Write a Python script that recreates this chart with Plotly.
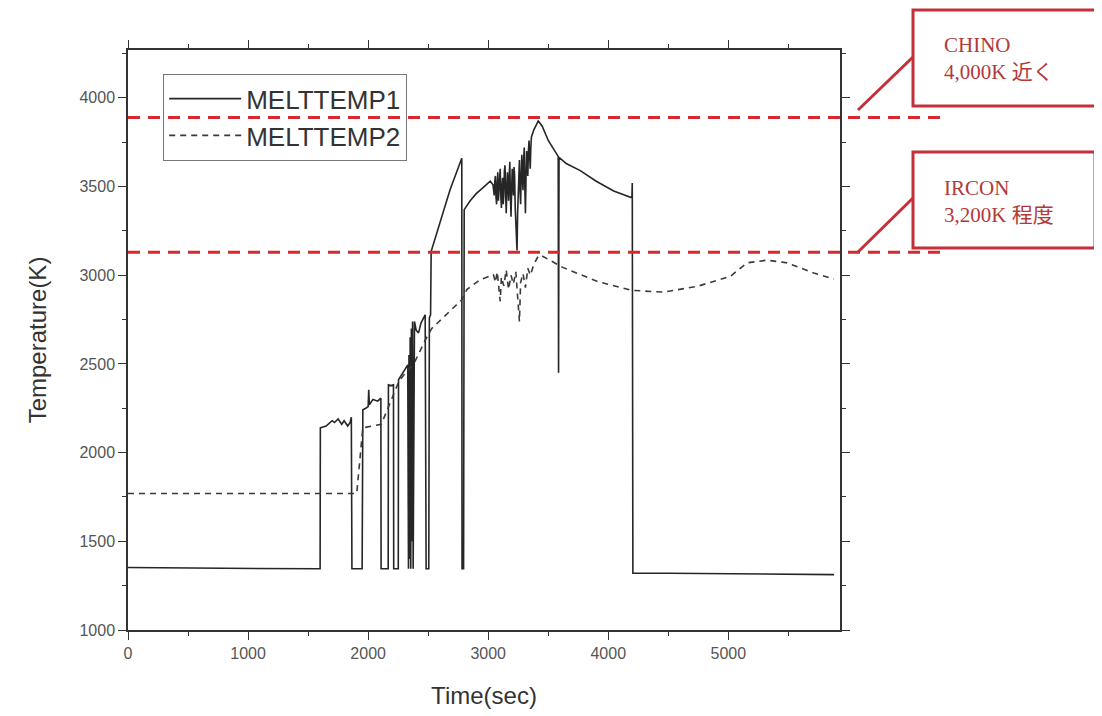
import plotly.graph_objects as go

# ---------------- data ----------------
t1 = [0, 200, 800, 1600, 1602, 1650, 1700, 1720, 1750, 1780, 1800, 1830, 1850, 1860, 1865,
      1950, 1956, 1980, 2000, 2005, 2010, 2040, 2080, 2106, 2108,
      2167, 2169, 2190, 2211, 2213,
      2251, 2253, 2280, 2310, 2330, 2336, 2340, 2345, 2350, 2355, 2360, 2365, 2370, 2375, 2380,
      2386, 2400, 2420, 2440, 2460, 2475, 2483, 2505, 2510, 2520, 2525,
      2600, 2683, 2780, 2782, 2795, 2800, 2850, 2900, 2950, 3017,
      3040, 3045, 3050, 3055, 3060, 3065, 3070, 3075, 3080, 3085, 3090, 3095, 3100, 3105, 3110,
      3115, 3120, 3125, 3130, 3135, 3140, 3145, 3150, 3155, 3160, 3165, 3170, 3175, 3180, 3185,
      3190, 3195, 3200, 3205, 3210, 3215, 3220, 3225, 3230, 3235, 3240, 3245, 3250, 3255, 3260,
      3265, 3270, 3275, 3280, 3285, 3290, 3295, 3300, 3305, 3310, 3315, 3320, 3325, 3330, 3335,
      3340, 3345, 3350, 3355, 3360,
      3380, 3400, 3417, 3450, 3500, 3583, 3586, 3590, 3650, 3767, 3900, 4045,
      4150, 4197, 4200, 4205, 4500, 5000, 5880]
v1 = [1352, 1352, 1348, 1345, 2140, 2150, 2180, 2170, 2190, 2160, 2180, 2150, 2170, 2200, 1345,
      1345, 2242, 2250, 2260, 2354, 2270, 2300, 2290, 2307, 1345,
      1345, 2382, 2378, 2382, 1345,
      1345, 2411, 2440, 2470, 2495, 1345, 2550, 1400, 2650, 1345, 2700, 1500, 2740, 1345, 2720,
      2740, 2690, 2675, 2730, 2760, 2777, 1345, 1345, 2760, 2777, 3135,
      3297, 3483, 3660, 1345, 1345, 3370, 3420, 3460, 3490, 3530,
      3510, 3470, 3450, 3530, 3560, 3440, 3400, 3520, 3580, 3420, 3480, 3560, 3600, 3450, 3380,
      3500, 3550, 3400, 3450, 3590, 3620, 3480, 3350, 3470, 3580, 3520, 3420, 3560, 3640, 3450,
      3330, 3480, 3600, 3520, 3450, 3610, 3560, 3380, 3300, 3200, 3140, 3350, 3500, 3600, 3650,
      3480, 3400, 3560, 3680, 3550, 3480, 3650, 3720, 3500, 3350, 3550, 3700, 3640, 3560, 3700,
      3760, 3680, 3600, 3720, 3780,
      3820, 3850, 3870, 3840, 3760, 3670, 2450, 3665, 3630, 3590, 3530, 3475,
      3450, 3437, 3520, 1320, 1320, 1318, 1312]

t2 = [0, 1905, 1956, 2110, 2255, 2300, 2380, 2480, 2530, 2650, 2780, 2822, 2933,
      3044, 3060, 3075, 3090, 3100, 3110, 3130, 3150, 3170, 3190, 3210, 3230, 3245, 3260, 3270,
      3290, 3310, 3330, 3350, 3380, 3410, 3433, 3625, 3906, 4197, 4458, 4739, 5017, 5156,
      5322, 5489, 5711, 5878]
v2 = [1770, 1770, 2140, 2160, 2400, 2440, 2500, 2640, 2700, 2780, 2862, 2919, 2975,
      3003, 2960, 3020, 2930, 2853, 2990, 2940, 3030, 2920, 3000, 2950, 3020, 2900, 2740, 2960,
      3010, 2930, 3040, 3000, 3060, 3100, 3115, 3043, 2966, 2915, 2905, 2937, 2994, 3070,
      3085, 3070, 3013, 2979]

ref_levels = [3890, 3130]
ref_labels = ["CHINO<br>4,000K 近く", "IRCON<br>3,200K 程度"]
series_names = ["MELTTEMP1", "MELTTEMP2"]
x_ticks = [0, 1000, 2000, 3000, 4000, 5000]
y_ticks = [1000, 1500, 2000, 2500, 3000, 3500, 4000]

X_RANGE = [0, 5930]
Y_RANGE = [1000, 4270]

# ---------------- figure ----------------
fig = go.Figure()
fig.add_trace(go.Scatter(x=t1, y=v1, mode="lines", name=series_names[0],
                         line=dict(color="#262626", width=1.6)))
fig.add_trace(go.Scatter(x=t2, y=v2, mode="lines", name=series_names[1],
                         line=dict(color="#3a3a3a", width=1.6, dash="6px,5px")))

# page offset of the plot div (default body margin)
OFF = 8
W, H = 1102 - OFF, 716 - OFF
# plot area in page pixels
L, R, T, B = 128, 840, 50, 630
def px(x):
    return (x - L) / (R - L)
def py(y):
    return (B - y) / (B - T)
def vy(v):
    return (v - Y_RANGE[0]) / (Y_RANGE[1] - Y_RANGE[0])

red = "#d42a2f"
box_red = "#c3303a"
shapes = []
for lev in ref_levels:
    shapes.append(dict(type="line", xref="paper", yref="paper", x0=0, x1=px(940),
                       y0=vy(lev), y1=vy(lev),
                       line=dict(color=red, width=3, dash="12px,8px")))
boxes = [(913, 1097, 10, 106, 57, 110), (913, 1095, 152, 248, 198, 252)]
for (x0, x1, y0, y1, cy, ly) in boxes:
    shapes.append(dict(type="rect", xref="paper", yref="paper", x0=px(x0), x1=px(x1),
                       y0=py(y1), y1=py(y0), line=dict(color=box_red, width=3)))
    shapes.append(dict(type="line", xref="paper", yref="paper", x0=px(858), x1=px(x0),
                       y0=py(ly), y1=py(cy), line=dict(color=box_red, width=3)))

annotations = []
for (x0, x1, y0, y1, cy, ly), lab in zip(boxes, ref_labels):
    annotations.append(dict(xref="paper", yref="paper", x=px(942), y=py((y0 + y1) / 2 + 1),
                            xanchor="left", yanchor="middle", align="left", showarrow=False,
                            text=lab,
                            font=dict(family="Liberation Serif, Noto Sans CJK JP, serif",
                                      size=21, color="#b23a3a")))

axis_common = dict(showline=True, linecolor="#333", linewidth=1.5, mirror="ticks",
                   ticks="outside", ticklen=8, tickwidth=1.3, tickcolor="#333",
                   showgrid=False, zeroline=False,
                   tickfont=dict(family="Liberation Sans, Arial", size=16, color="#555"),
                   title_font=dict(family="Liberation Sans, Arial", size=24, color="#333"))

fig.update_layout(
    width=W, height=H,
    margin=dict(l=L - OFF, r=W - (R - OFF), t=T - OFF, b=H - (B - OFF), autoexpand=False),
    paper_bgcolor="white", plot_bgcolor="white",
    showlegend=True,
    legend=dict(x=px(163), y=py(74), xanchor="left", yanchor="top",
                bgcolor="rgba(255,255,255,0)", bordercolor="#777", borderwidth=1.2,
                font=dict(family="Liberation Sans, Arial", size=26, color="#333"),
                itemwidth=72, tracegroupgap=0),
    shapes=shapes,
    annotations=annotations,
    xaxis=dict(range=X_RANGE, tickvals=x_ticks, title=dict(text="Time(sec)", standoff=26),
               minor=dict(dtick=500, ticks="outside", ticklen=4, tickcolor="#333"),
               **axis_common),
    yaxis=dict(range=Y_RANGE, tickvals=y_ticks, title=dict(text="Temperature(K)", standoff=26),
               minor=dict(dtick=250, ticks="outside", ticklen=4, tickcolor="#333"),
               **axis_common),
)

fig.write_html("out.html")
